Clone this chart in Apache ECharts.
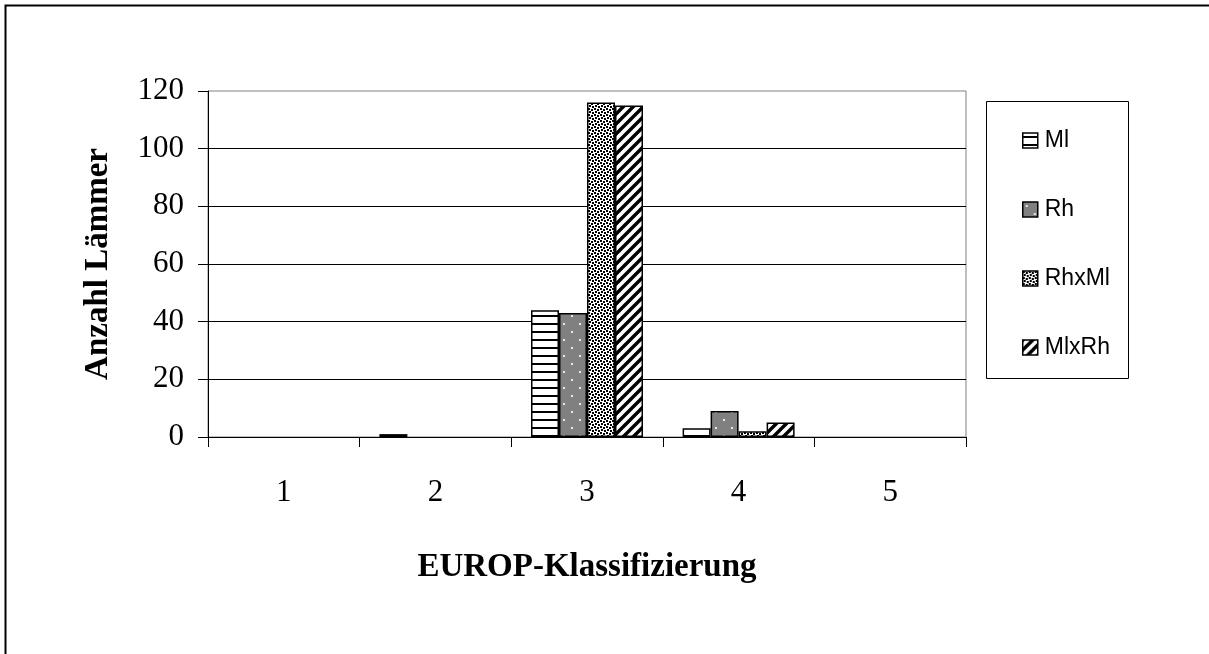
<!DOCTYPE html>
<html><head><meta charset="utf-8">
<script src="https://cdn.jsdelivr.net/npm/echarts@6/dist/echarts.min.js"></script>
<style>html,body{margin:0;padding:0;background:#fff}#c{width:1209px;height:654px}</style>
</head><body><div id="c"></div>
<script>
var categories = ['1', '2', '3', '4', '5'];
var seriesNames = ['Ml', 'Rh', 'RhxMl', 'MlxRh'];
var valuesMl = [0, 1, 44, 3, 0];
var valuesRh = [0, 0, 43, 9, 0];
var valuesRhxMl = [0, 0, 116, 2, 0];
var valuesMlxRh = [0, 0, 115, 5, 0];
var yTicks = [0, 20, 40, 60, 80, 100, 120];

function tile(w, h, draw) {
  var c = document.createElement('canvas');
  c.width = w; c.height = h;
  var g = c.getContext('2d');
  draw(g, w, h);
  return { image: c, repeat: 'repeat' };
}
var patHoriz = tile(8, 8, function (g, w, h) {
  g.fillStyle = '#fff'; g.fillRect(0, 0, w, h);
  g.fillStyle = '#000'; g.fillRect(0, 3, w, 2);
});
var patGray = tile(16, 16, function (g, w, h) {
  g.fillStyle = '#808080'; g.fillRect(0, 0, w, h);
  g.fillStyle = '#e8e8e8'; g.fillRect(3, 3, 2, 2); g.fillRect(11, 11, 2, 2);
});
var patDots = tile(6, 6, function (g, w, h) {
  g.fillStyle = '#fff'; g.fillRect(0, 0, w, h);
  g.fillStyle = '#000';
  g.fillRect(0, 0, 2, 2); g.fillRect(3, 1, 2, 2); g.fillRect(1, 3, 2, 2); g.fillRect(4, 4, 2, 2);
});
var patDiag = tile(10, 10, function (g, w, h) {
  g.fillStyle = '#fff'; g.fillRect(0, 0, w, h);
  g.strokeStyle = '#000'; g.lineWidth = 3.4;
  g.beginPath();
  g.moveTo(-3, 13); g.lineTo(13, -3);
  g.moveTo(-8, 8); g.lineTo(8, -8);
  g.moveTo(2, 18); g.lineTo(18, 2);
  g.stroke();
});
var patterns = [patHoriz, patGray, patDots, patDiag];
var dataSets = [valuesMl, valuesRh, valuesRhxMl, valuesMlxRh];

var chart = echarts.init(document.getElementById('c'), null, { renderer: 'canvas' });
var serif = '"Liberation Serif", "Times New Roman", serif';
chart.setOption({
  animation: false,
  backgroundColor: '#fff',
  grid: { left: 208, right: 243, top: 91, bottom: 217, show: true, borderColor: '#808080', borderWidth: 1, backgroundColor: 'transparent' },
  legend: {
    orient: 'vertical', left: 1017, top: 124,
    itemWidth: 15, itemHeight: 15, itemGap: 46,
    icon: 'rect',
    textStyle: { fontFamily: '"Liberation Sans", Arial, sans-serif', fontSize: 23, lineHeight: 23, color: '#000', padding: [0, 0, 0, 2] },
    itemStyle: { borderColor: '#000', borderWidth: 1.5 },
    data: seriesNames
  },
  xAxis: {
    type: 'category', data: categories,
    name: 'EUROP-Klassifizierung', nameLocation: 'middle', nameGap: 114,
    nameTextStyle: { fontFamily: serif, fontSize: 33, fontWeight: 'bold', color: '#000' },
    axisLine: { lineStyle: { color: '#000', width: 1 } },
    axisTick: { show: true, length: 10, lineStyle: { color: '#000' } },
    axisLabel: { fontFamily: serif, fontSize: 31, color: '#000', margin: 40 },
    splitLine: { show: false }
  },
  yAxis: {
    type: 'value', min: 0, max: 120, interval: 20,
    name: 'Anzahl Lämmer', nameLocation: 'middle', nameGap: 93,
    nameTextStyle: { fontFamily: serif, fontSize: 33, fontWeight: 'bold', color: '#000' },
    axisLine: { show: true, lineStyle: { color: '#000', width: 1 } },
    axisTick: { show: true, length: 10, lineStyle: { color: '#000' } },
    axisLabel: {
      fontFamily: serif, fontSize: 31, color: '#000', margin: 24,
      formatter: function (v) { return yTicks.indexOf(v) >= 0 ? String(v) : ''; }
    },
    splitLine: { show: true, showMaxLine: false, lineStyle: { color: '#000', width: 1 } }
  },
  graphic: [
    { type: 'rect', shape: { x: 5.5, y: 5.5, width: 1230, height: 700 }, style: { fill: 'none', stroke: '#000', lineWidth: 2 }, z: 100 },
    { type: 'rect', shape: { x: 986.5, y: 101.5, width: 142, height: 277 }, style: { fill: 'none', stroke: '#000', lineWidth: 1 }, z: 100 }
  ],
  series: seriesNames.map(function (n, i) {
    return {
      name: n, type: 'bar',
      data: dataSets[i].map(function (v) { return v === 0 ? '-' : v; }),
      barWidth: 28, barGap: '0%',
      itemStyle: { color: patterns[i], borderColor: '#000', borderWidth: 1.5 }
    };
  })
});
</script></body></html>
